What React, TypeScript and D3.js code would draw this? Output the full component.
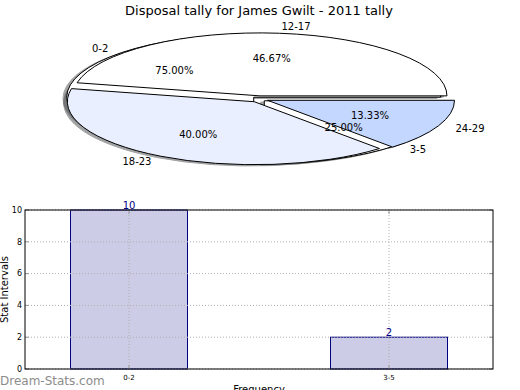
import React from "react";
import * as d3 from "d3";

const title = "Disposal tally for James Gwilt - 2011 tally";

// first (under) pie
const pieALabels = ["0-2", "3-5"];
const pieAValues = [3, 1];
const pieAColors = ["#ffffff", "#ffffff"];
// second (top) pie
const pieBLabels = ["12-17", "18-23", "24-29"];
const pieBValues = [7, 6, 2];
const pieBColors = ["#ffffff", "#e9effe", "#c4d7fe"];

const barLabels = ["0-2", "3-5"];
const barValues = [10, 2];
const yTicks = [0, 2, 4, 6, 8, 10];

const W = 520;
const H = 390;
const font = "DejaVu Sans, sans-serif";

// pie geometry (ellipse because the axes are squashed)
const cx = 259,
  cy = 99,
  rx = 187,
  ry = 63;
const px = d3.scaleLinear().domain([-1, 1]).range([cx - rx, cx + rx]);
const py = d3.scaleLinear().domain([-1, 1]).range([cy + ry, cy - ry]);

const pieGen = d3
  .pie<number>()
  .sort(null)
  .startAngle(Math.PI / 2)
  .endAngle(Math.PI / 2 - 2 * Math.PI);
const arcGen = d3.arc<any>().innerRadius(0).outerRadius(1);

function wedges(values: number[], labels: string[], colors: string[], explode: number) {
  const total = d3.sum(values);
  return pieGen(values).map((a, i) => {
    const mid = (a.startAngle + a.endAngle) / 2;
    const ux = Math.sin(mid);
    const uy = Math.cos(mid);
    return {
      arc: a,
      label: labels[i],
      color: colors[i],
      ox: explode * ux,
      oy: explode * uy,
      ux,
      uy,
      pct: ((100 * values[i]) / total).toFixed(2) + "%",
    };
  });
}

const wedgesA = wedges(pieAValues, pieALabels, pieAColors, 0.04);
const wedgesB = wedges(pieBValues, pieBLabels, pieBColors, 0.05);
const allWedges = [...wedgesA, ...wedgesB];

const shadowColor = (c: string) => {
  const r = d3.rgb(c);
  return d3.rgb(r.r * 0.3, r.g * 0.3, r.b * 0.3).toString();
};

// bar chart
const x = d3.scaleLinear().domain([-0.4, 1.4]).range([25, 493]);
const y = d3.scaleLinear().domain([0, 10]).range([369, 210]);
const barW = 0.45;

const App = () => {
  return (
    <div style={{ position: "absolute", left: 0, top: 0 }}>
      <svg width={W} height={H} style={{ display: "block", background: "#fff" }} fontFamily={font}>
        <text x={259} y={15} textAnchor="middle" fontSize={13}>
          {title}
        </text>

        {/* shadows */}
        {allWedges.map((w, i) => (
          <path
            key={"s" + i}
            d={arcGen(w.arc) as string}
            transform={`translate(${px(w.ox - 0.02)},${py(w.oy - 0.02)}) scale(${rx},${ry})`}
            fill={shadowColor(w.color)}
            stroke={shadowColor(w.color)}
            strokeWidth={1}
            vectorEffect="non-scaling-stroke"
            opacity={0.5}
          />
        ))}
        {/* wedges */}
        {allWedges.map((w, i) => (
          <path
            key={"w" + i}
            d={arcGen(w.arc) as string}
            transform={`translate(${px(w.ox)},${py(w.oy)}) scale(${rx},${ry})`}
            fill={w.color}
            stroke="#000"
            strokeWidth={1}
            vectorEffect="non-scaling-stroke"
            strokeLinejoin="round"
          />
        ))}
        {/* labels */}
        {allWedges.map((w, i) => (
          <g key={"l" + i} fontSize={10}>
            <text
              x={px(w.ox + 1.1 * w.ux)}
              y={py(w.oy + 1.1 * w.uy)}
              dy="0.35em"
              textAnchor={w.ux > 0 ? "start" : "end"}
            >
              {w.label}
            </text>
            <text x={px(w.ox + 0.6 * w.ux)} y={py(w.oy + 0.6 * w.uy)} dy="0.35em" textAnchor="middle">
              {w.pct}
            </text>
          </g>
        ))}

        {/* bar chart */}
        {barValues.map((v, i) => (
          <rect
            key={"b" + i}
            x={x(i - barW / 2)}
            y={y(v)}
            width={x(i + barW / 2) - x(i - barW / 2)}
            height={y(0) - y(v)}
            fill="#ccccE6"
            stroke="#000080"
            strokeWidth={1}
          />
        ))}
        {/* grid */}
        {yTicks.map((t) => (
          <line
            key={"gy" + t}
            x1={x(-0.4)}
            x2={x(1.4)}
            y1={y(t)}
            y2={y(t)}
            stroke="#b0b0b0"
            strokeWidth={1}
            strokeDasharray="1,2"
          />
        ))}
        {barLabels.map((l, i) => (
          <line
            key={"gx" + i}
            x1={x(i)}
            x2={x(i)}
            y1={y(0)}
            y2={y(10)}
            stroke="#b0b0b0"
            strokeWidth={1}
            strokeDasharray="1,2"
          />
        ))}
        {/* ticks */}
        {yTicks.map((t) => (
          <g key={"ty" + t} stroke="#999">
            <line x1={x(-0.4)} x2={x(-0.4) + 4} y1={y(t)} y2={y(t)} />
            <line x1={x(1.4) - 4} x2={x(1.4)} y1={y(t)} y2={y(t)} />
          </g>
        ))}
        {barLabels.map((l, i) => (
          <g key={"tx" + i} stroke="#999">
            <line x1={x(i)} x2={x(i)} y1={y(0)} y2={y(0) - 4} />
            <line x1={x(i)} x2={x(i)} y1={y(10)} y2={y(10) + 4} />
          </g>
        ))}
        <rect
          x={x(-0.4)}
          y={y(10)}
          width={x(1.4) - x(-0.4)}
          height={y(0) - y(10)}
          fill="none"
          stroke="#000"
          strokeWidth={1}
        />
        {yTicks.map((t) => (
          <text key={"yl" + t} x={x(-0.4) - 3} y={y(t)} dy="0.35em" textAnchor="end" fontSize={8}>
            {t}
          </text>
        ))}
        {barLabels.map((l, i) => (
          <text key={"xl" + i} x={x(i)} y={y(0) + 11} textAnchor="middle" fontSize={7}>
            {l}
          </text>
        ))}
        {barValues.map((v, i) => (
          <text key={"v" + i} x={x(i)} y={y(v) - 1} textAnchor="middle" fontSize={10} fill="#000080">
            {v}
          </text>
        ))}
        <text
          transform={`translate(8,${(y(0) + y(10)) / 2}) rotate(-90)`}
          textAnchor="middle"
          fontSize={10}
        >
          Stat Intervals
        </text>
        <text x={259} y={393} textAnchor="middle" fontSize={10}>
          Frequency
        </text>
        <text x={0} y={385} fontSize={12} fill="#8c8c8c">
          Dream-Stats.com
        </text>
      </svg>
    </div>
  );
};

export default App;
